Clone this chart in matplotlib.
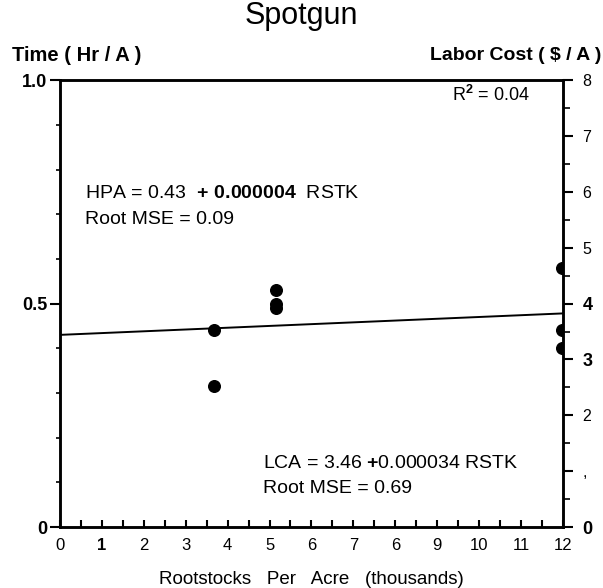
import numpy as np
import matplotlib.pyplot as plt
from matplotlib.ticker import MultipleLocator

# data (x in thousands of rootstocks per acre)
rstk = [3.68, 3.68, 5.15, 5.15, 5.15, 11.98, 11.98, 11.98]
hpa = [0.44, 0.315, 0.53, 0.50, 0.49, 0.58, 0.44, 0.40]
intercept = 0.43
slope = 0.000004 * 1000  # per thousand rootstocks

x_labels = ['0', '1', '2', '3', '4', '5', '6', '7', '6', '9', '10', '11', '12']
right_labels = ['0', ',', '2', '3', '4', '5', '6', '7', '8']

plt.rcParams['font.family'] = ['Liberation Sans', 'DejaVu Sans']
plt.rcParams['mathtext.fontset'] = 'custom'
plt.rcParams['mathtext.rm'] = 'Liberation Sans'
plt.rcParams['mathtext.bf'] = 'Liberation Sans:bold'
narrow = ['Liberation Sans Narrow', 'Liberation Sans']

fig = plt.figure(figsize=(6.03, 5.88), dpi=100)
ax = fig.add_axes([0.0995, 0.1037, 0.834, 0.760])

ax.scatter(rstk, hpa, s=70, color='black', zorder=3, clip_on=True)
xl = np.array([0, 12])
ax.plot(xl, intercept + slope * xl, color='black', lw=1.4)

ax.set_xlim(0, 12)
ax.set_ylim(0, 1.0)
for s in ax.spines.values():
    s.set_linewidth(1.8)

# bottom axis
ax.set_xticks(range(13))
ax.set_xticklabels(x_labels, fontsize=12, family=narrow)
ax.xaxis.set_minor_locator(MultipleLocator(0.5))
ax.tick_params(axis='x', which='both', direction='in', length=5, width=1.5, pad=8)
ax.get_xticklabels()[1].set_fontweight('bold')
ax.set_xlabel('Rootstocks   Per   Acre   (thousands)', fontsize=13.5, labelpad=13)

# left axis
ax.set_yticks([0, 0.5, 1.0])
ax.set_yticklabels(['0', '0.5', '1.0'], fontsize=13, fontweight='bold')
ax.yaxis.set_minor_locator(MultipleLocator(0.1))
ax.tick_params(axis='y', which='major', direction='out', length=7, width=1.5, pad=2)
ax.tick_params(axis='y', which='minor', direction='out', length=3, width=1.2)

# right axis (labor cost)
ax2 = ax.twinx()
ax2.set_ylim(0, 8)
ax2.set_yticks(range(9))
ax2.set_yticklabels(right_labels, fontsize=11.5, family=narrow)
for i in (0, 3, 4):
    ax2.get_yticklabels()[i].set_fontweight('bold')
    ax2.get_yticklabels()[i].set_fontsize(13)
ax2.yaxis.set_minor_locator(MultipleLocator(0.5))
ax2.tick_params(axis='y', which='major', direction='out', length=7, width=1.5, pad=7)
ax2.tick_params(axis='y', which='minor', direction='out', length=5, width=1.2)
for s in ax2.spines.values():
    s.set_linewidth(1.8)

fig.text(0.5, 0.973, 'Spotgun', ha='center', va='center', fontsize=22)
fig.text(0.02, 0.906, 'Time ( Hr / A )', ha='left', va='center', fontsize=14.5, fontweight='bold')
fig.text(0.997, 0.906, 'Labor Cost ( $ / A )', ha='right', va='center', fontsize=14, fontweight='bold')

txt = dict(fontsize=14, transform=ax.transAxes, va='center')
ax.text(0.78, 0.966, r'R$^{\mathbf{2}}$ = 0.04', fontsize=13, transform=ax.transAxes, va='center')
ax.text(0.05, 0.747, r'HPA = 0.43  $\mathbf{+}\ \mathbf{0.000004}$  RSTK', **txt)
ax.text(0.05, 0.689, 'Root MSE = 0.09', **txt)
ax.text(0.403, 0.143, r'LCA = 3.46 $\mathbf{+}$0.000034 RSTK', **txt)
ax.text(0.403, 0.087, 'Root MSE = 0.69', **txt)

fig.savefig('out.png', dpi=100)
